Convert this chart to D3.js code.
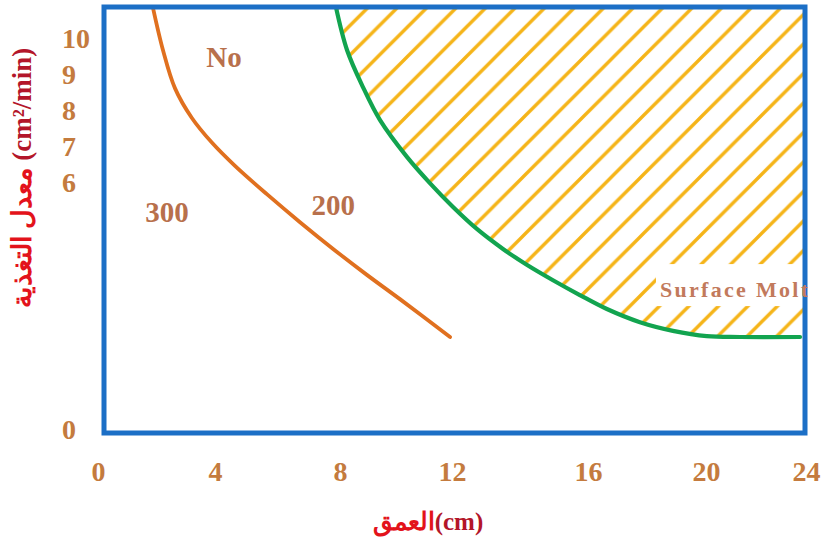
<!DOCTYPE html>
<html>
<head>
<meta charset="utf-8">
<script src="https://cdn.jsdelivr.net/npm/d3@7"></script>
<style>
  html, body { margin: 0; padding: 0; background: #fff; }
  svg { display: block; }
  text { font-family: "Liberation Serif", "Times New Roman", serif; font-weight: bold; }
</style>
</head>
<body>
<svg id="chart" width="825" height="547"></svg>
<script>
// Tick values on each axis
const xTicks = [0, 4, 8, 12, 16, 20, 24];
const yTicks = [0, 6, 7, 8, 9, 10];

// Depth (cm) vs feed rate (cm²/min) for the "No" boundary curve
const noCurveDepth = [1.88, 2.22, 2.63, 3.21, 3.90, 4.64, 5.66, 6.72, 7.78, 8.96, 10.14, 11.93];
const noCurveRate  = [10.81, 9.64, 8.58, 7.75, 7.06, 6.42, 5.68, 5.00, 4.35, 3.72, 3.13, 2.21];

// Depth vs feed rate for the surface-molt boundary curve
const moltDepth = [7.87, 8.25, 8.82, 9.43, 10.39, 11.21, 12.03, 12.74, 13.5, 14.21, 14.97,
                   15.76, 16.64, 17.76, 18.88, 20.03, 21.36, 23.76];
const moltRate  = [10.83, 9.64, 8.61, 7.69, 6.67, 5.95, 5.37, 4.83, 4.35, 3.96, 3.59,
                   3.23, 2.89, 2.57, 2.36, 2.23, 2.21, 2.21];

// Region annotations (text, depth, rate)
const annoText  = ["No", "300", "200"];
const annoDepth = [4.29, 2.36, 7.78];
const annoRate  = [9.17, 5.0, 5.17];

const svg = d3.select("#chart");

// Plot frame
const frame = { left: 104, right: 805, top: 7, bottom: 433 };

const x = d3.scaleLinear()
  .domain([0, 4, 8, 12, 16, 20, 24])
  .range([98, 215, 340, 452, 588, 706, 806]);

const y = d3.scaleLinear()
  .domain([0, 6, 10])
  .range([428, 181, 37]);

const yTop = y.invert(frame.top);

const defs = svg.append("defs");

// clip to plot interior
defs.append("clipPath").attr("id", "plotClip")
  .append("rect")
  .attr("x", frame.left).attr("y", frame.top)
  .attr("width", frame.right - frame.left).attr("height", frame.bottom - frame.top);

// clip for the region label, which runs onto the frame edge
defs.append("clipPath").attr("id", "labelClip")
  .append("rect")
  .attr("x", frame.left).attr("y", frame.top)
  .attr("width", frame.right - frame.left + 3).attr("height", frame.bottom - frame.top);

// diagonal hatch pattern
const W = 29.5, H = 29.5;
const pat = defs.append("pattern")
  .attr("id", "hatch")
  .attr("patternUnits", "userSpaceOnUse")
  .attr("x", 21.5).attr("y", 0)
  .attr("width", W).attr("height", H);
pat.append("path")
  .attr("d", `M${-W},${2 * H} L${2 * W},${-H} M${-2 * W},${2 * H} L${W},${-H} M0,${2 * H} L${3 * W},${-H}`)
  .attr("stroke", "#f5b418")
  .attr("stroke-width", 3.4)
  .attr("fill", "none");

const moltPts = moltDepth.map((d, i) => ({ d, r: moltRate[i] }));
const noPts = noCurveDepth.map((d, i) => ({ d, r: noCurveRate[i] }));

const plot = svg.append("g").attr("clip-path", "url(#plotClip)");

// hatched surface-molt region, above the boundary curve
const areaPts = moltPts.concat([{ d: 24.2, r: moltRate[moltRate.length - 1] }]);
plot.append("path")
  .datum(areaPts)
  .attr("d", d3.area()
    .x(p => x(p.d))
    .y0(y(yTop))
    .y1(p => y(p.r))
    .curve(d3.curveMonotoneX))
  .attr("fill", "url(#hatch)");

// clear band behind the region label
const molt = { text: "Surface Molt", d: 18.44, r: 3.18 };
plot.append("rect")
  .attr("x", x(molt.d) - 4).attr("y", y(molt.r) - 33)
  .attr("width", frame.right - x(molt.d) + 4).attr("height", 42)
  .attr("fill", "#fff");

// boundary curves
const line = d3.line().x(p => x(p.d)).y(p => y(p.r)).curve(d3.curveCatmullRom.alpha(0.5));

plot.append("path")
  .datum(moltPts)
  .attr("d", line)
  .attr("fill", "none")
  .attr("stroke", "#12a44f")
  .attr("stroke-width", 4.2)
  .attr("stroke-linecap", "round");

plot.append("path")
  .datum(noPts)
  .attr("d", line)
  .attr("fill", "none")
  .attr("stroke", "#e0701f")
  .attr("stroke-width", 3.8)
  .attr("stroke-linecap", "round");

// region annotations
svg.append("g").selectAll("text")
  .data(annoText)
  .join("text")
  .attr("x", (t, i) => x(annoDepth[i]))
  .attr("y", (t, i) => y(annoRate[i]))
  .attr("text-anchor", "middle")
  .attr("fill", "#b8704c")
  .attr("font-size", 29)
  .text(t => t);

// frame
svg.append("rect")
  .attr("x", frame.left).attr("y", frame.top)
  .attr("width", frame.right - frame.left).attr("height", frame.bottom - frame.top)
  .attr("fill", "none")
  .attr("stroke", "#1c6fc6")
  .attr("stroke-width", 5);

// region label drawn over the frame edge
svg.append("text")
  .attr("clip-path", "url(#labelClip)")
  .attr("x", x(molt.d)).attr("y", y(molt.r))
  .attr("fill", "#c27a5c")
  .attr("font-size", 22)
  .attr("letter-spacing", 2.3)
  .text(molt.text);

// x axis tick labels
const xAxis = svg.append("g")
  .attr("transform", "translate(0,481)")
  .call(d3.axisBottom(x).tickValues(xTicks).tickSize(0).tickPadding(0).tickFormat(d3.format("d")));
xAxis.select(".domain").remove();
xAxis.selectAll("text")
  .attr("y", 0).attr("dy", 0)
  .attr("fill", "#c47b3e")
  .attr("font-size", 28)
  .attr("font-family", "Liberation Serif, serif");

// y axis tick labels
const yAxis = svg.append("g")
  .attr("transform", "translate(62,0)")
  .call(d3.axisLeft(y).tickValues(yTicks).tickSize(0).tickPadding(0).tickFormat(d3.format("d")));
yAxis.select(".domain").remove();
yAxis.selectAll("text")
  .attr("x", 0).attr("dy", "0.36em")
  .attr("text-anchor", "start")
  .attr("fill", "#c47b3e")
  .attr("font-size", 28)
  .attr("font-family", "Liberation Serif, serif");

// axis titles
const xTitle = svg.append("text")
  .attr("x", 428).attr("y", 530)
  .attr("text-anchor", "middle")
  .attr("font-size", 25);
xTitle.append("tspan").attr("fill", "#e3131b").text("العمق");
xTitle.append("tspan").attr("fill", "#b3162a").text("(cm)");

const yTitle = svg.append("text")
  .attr("transform", "translate(31,178) rotate(-90)")
  .attr("text-anchor", "middle")
  .attr("font-size", 27);
yTitle.append("tspan").attr("fill", "#e3131b").text("معدل التغذية ");
yTitle.append("tspan").attr("fill", "#b3162a").text("(cm²/min)");
</script>
</body>
</html>
